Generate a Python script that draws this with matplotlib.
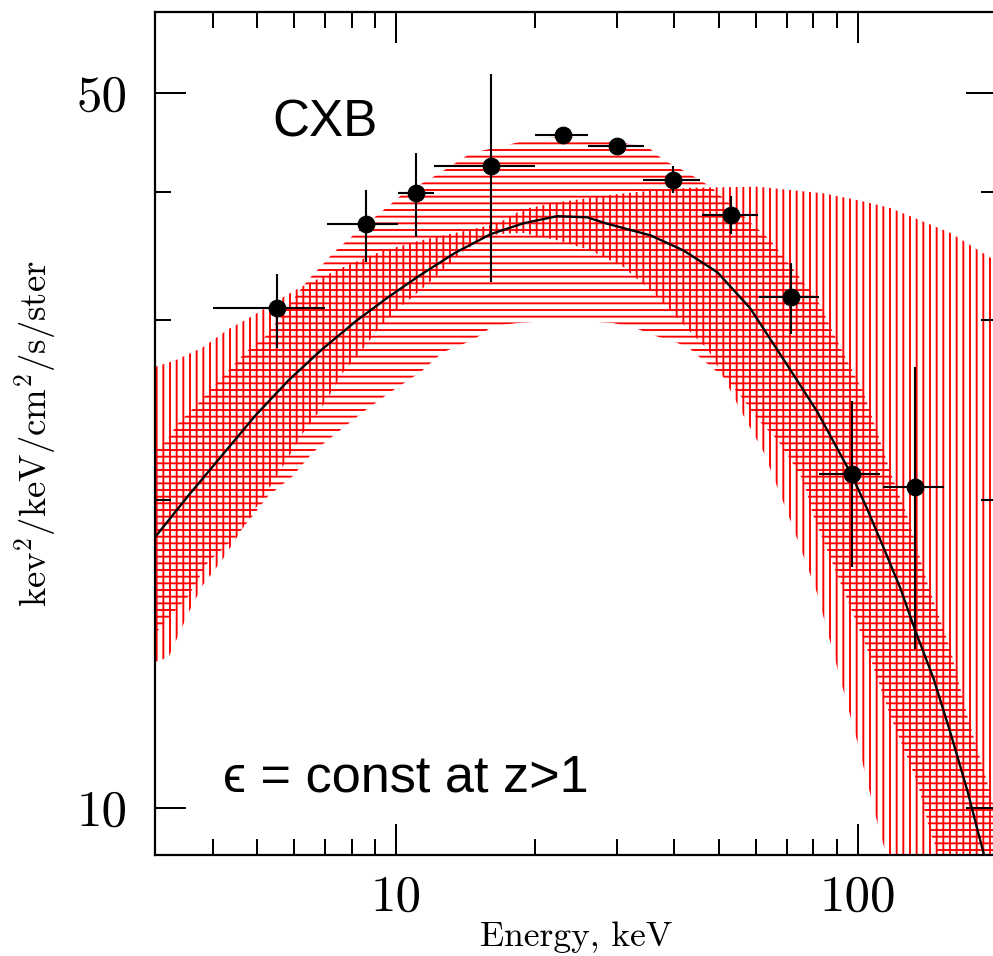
import matplotlib
matplotlib.use('Agg')
import matplotlib.pyplot as plt
from matplotlib.ticker import FixedLocator, FixedFormatter, NullFormatter

# spectre CXB : points de mesure (keV, keV^2/keV/cm^2/s/ster)
E_pts = [5.52, 8.6, 11.05, 16.06, 23.0, 30.1, 39.8, 53.1, 71.4, 97.2, 133.1]
F_pts = [30.8, 37.2, 39.9, 42.4, 45.5, 44.4, 41.1, 38.0, 31.6, 21.2, 20.6]
E_lo = [4.01, 7.08, 10.08, 12.05, 20.0, 26.0, 34.2, 45.8, 60.9, 82.2, 113.2]
E_hi = [7.02, 10.08, 12.05, 20.0, 26.0, 34.3, 45.4, 60.7, 82.2, 111.8, 153.8]
F_lo = [28.2, 34.2, 36.2, 32.7, 44.8, 43.8, 39.9, 36.4, 29.1, 17.2, 14.3]
F_hi = [33.3, 40.2, 43.7, 52.2, 46.2, 45.0, 42.4, 39.7, 34.1, 25.0, 27.0]

# modèle (courbe noire)
E_mod = [3.0, 3.54, 4.20, 4.95, 5.84, 6.91, 8.15, 9.61, 11.27, 13.4, 16.0, 18.84, 22.3, 25.9,
         28.4, 31.0, 35.5, 41.8, 49.6, 58.4, 71.4, 81.6, 97.2, 104.7, 113.4, 123.5, 133.1, 145.6,
         158.5, 172.5, 186.8, 193.5]
F_mod = [18.4, 20.2, 22.15, 24.2, 26.2, 28.1, 29.9, 31.6, 33.2, 34.9, 36.4, 37.3, 37.9, 37.8,
         37.3, 36.9, 36.3, 35.1, 33.4, 30.8, 26.8, 24.4, 21.1, 19.6, 18.0, 16.4, 14.9, 13.4,
         11.85, 10.4, 9.05, 8.47]

# bande hachurée verticale
vt_E = [3.0, 3.32, 3.80, 4.33, 4.83, 5.69, 6.20, 7.56, 9.23, 11.3, 13.8, 16.6, 18.8, 22.3, 26.3,
        31.0, 36.8, 43.3, 60.5, 84.1, 99.7, 117.5, 158.5, 200]
vt_F = [27.0, 27.4, 28.2, 29.4, 30.2, 31.6, 32.3, 33.7, 35.0, 35.9, 36.6, 37.3, 38.5, 39.1, 39.5,
        39.9, 40.2, 40.4, 40.5, 39.9, 39.3, 38.6, 36.5, 34.2]
vb_E = [3.0, 3.21, 3.54, 3.80, 4.20, 5.61, 6.29, 6.84, 7.68, 8.36, 9.23, 10.2, 11.3, 12.45, 13.8,
        15.2, 16.6, 18.8, 22.3, 26.3, 31.0, 36.8, 43.3, 47.2, 51.1, 55.6, 62.4, 71.4, 81.6, 90.2,
        99.7, 110.1, 117.5, 200]
vb_F = [13.9, 14.05, 15.5, 16.5, 17.5, 21.4, 23.3, 24.5, 26.7, 27.9, 29.6, 30.9, 32.1, 33.4, 34.9,
        35.9, 36.4, 36.5, 35.9, 35.1, 33.8, 31.6, 29.2, 28.1, 26.4, 24.5, 22.3, 19.1, 16.2, 13.7,
        11.6, 9.68, 8.71, 4.0]

# bande hachurée horizontale
ht_E = [3.0, 3.16, 3.37, 3.67, 4.00, 4.33, 4.71, 5.20, 6.42, 6.84, 7.30, 7.83, 8.65, 9.56, 10.35,
        11.7, 13.1, 14.5, 16.8, 19.2, 22.7, 28.1, 35.0, 37.9, 42.7, 47.9, 64.6, 81.6, 91.6, 102.7,
        110.1, 117.5, 127.9, 141.3, 158.5, 172.5, 190.5, 203]
ht_F = [22.4, 22.8, 23.8, 24.7, 25.8, 26.8, 27.9, 28.9, 32.8, 33.8, 34.9, 35.9, 37.3, 38.7, 39.9,
        41.1, 42.4, 43.7, 44.3, 45.0, 45.3, 45.0, 44.3, 43.0, 41.8, 40.5, 35.9, 31.4, 28.2, 25.5,
        23.3, 21.3, 19.3, 16.6, 14.3, 12.3, 10.6, 9.5]
hb_E = [3.0, 3.27, 3.54, 3.91, 4.48, 4.88, 5.28, 5.95, 6.61, 7.45, 8.48, 9.70, 11.3, 12.6, 14.7,
        16.2, 18.3, 23.2, 29.5, 33.3, 36.8, 40.6, 43.3, 46.2, 52.1, 56.4, 60.5, 66.9, 71.4, 76.1,
        80.0, 91.6, 104.7, 117.5, 134.4, 143.4, 154.5, 200]
hb_F = [14.8, 15.5, 16.1, 17.4, 18.4, 19.3, 20.2, 21.1, 22.3, 23.3, 24.4, 25.5, 26.7, 27.9, 28.7,
        29.6, 29.8, 30.0, 29.8, 29.4, 28.9, 28.5, 28.1, 27.4, 26.2, 25.1, 24.0, 22.9, 21.9, 20.9,
        19.3, 16.6, 14.3, 12.3, 10.6, 9.46, 8.7, 5.0]

plt.rcParams['font.family'] = 'cmr10'
plt.rcParams['mathtext.fontset'] = 'cm'
plt.rcParams['axes.formatter.use_mathtext'] = True
plt.rcParams['hatch.linewidth'] = 1.7

dpi = 80
fig = plt.figure(figsize=(993 / dpi, 956 / dpi), dpi=dpi)
ax = fig.add_axes([0.1561, 0.1056, 0.848, 0.8818])
ax.set_xscale('log')
ax.set_yscale('log')

ax.fill(vt_E + vb_E[::-1], vt_F + vb_F[::-1], facecolor='none', edgecolor='red',
        linewidth=0, hatch='||', zorder=1)
ax.fill(ht_E + hb_E[::-1], ht_F + hb_F[::-1], facecolor='none', edgecolor='red',
        linewidth=0, hatch='--', zorder=1)

ax.plot(E_mod, F_mod, color='black', linewidth=2.1, zorder=3)

xerr = [[e - lo for e, lo in zip(E_pts, E_lo)], [hi - e for e, hi in zip(E_pts, E_hi)]]
yerr = [[f - lo for f, lo in zip(F_pts, F_lo)], [hi - f for f, hi in zip(F_pts, F_hi)]]
ax.errorbar(E_pts, F_pts, xerr=xerr, yerr=yerr, fmt='o', color='black', markersize=15,
            elinewidth=1.9, capsize=0, zorder=4)

ax.set_xlim(3, 200)
ax.set_ylim(9, 60)

ax.xaxis.set_major_locator(FixedLocator([10, 100]))
ax.xaxis.set_major_formatter(FixedFormatter(['10', '100']))
ax.xaxis.set_minor_locator(FixedLocator([4, 5, 6, 7, 8, 9, 20, 30, 40, 50, 60, 70, 80, 90]))
ax.xaxis.set_minor_formatter(NullFormatter())
ax.yaxis.set_major_locator(FixedLocator([10, 50]))
ax.yaxis.set_major_formatter(FixedFormatter(['10', '50']))
ax.yaxis.set_minor_locator(FixedLocator([20, 30, 40]))
ax.yaxis.set_minor_formatter(NullFormatter())

ax.tick_params(which='both', direction='in', top=True, right=True, width=1.8, labelsize=46)
ax.tick_params(which='major', length=28)
ax.tick_params(which='minor', length=14)
ax.tick_params(axis='y', pad=25)
ax.tick_params(axis='x', pad=18)
for s in ax.spines.values():
    s.set_linewidth(2)

ax.set_xlabel('Energy, keV', fontsize=32, labelpad=0)
ax.set_ylabel(r'$\mathrm{kev^2/keV/cm^2/s/ster}$', fontsize=33, labelpad=16)

ax.text(0.139, 0.852, 'CXB', transform=ax.transAxes, fontsize=46,
        family=['Liberation Sans', 'DejaVu Sans'], ha='left', va='baseline')
ax.text(0.081, 0.075, '\u03f5 = const at z>1', transform=ax.transAxes, fontsize=47,
        family=['Liberation Sans', 'DejaVu Sans'], ha='left', va='baseline')

fig.savefig('out.png', dpi=dpi)
